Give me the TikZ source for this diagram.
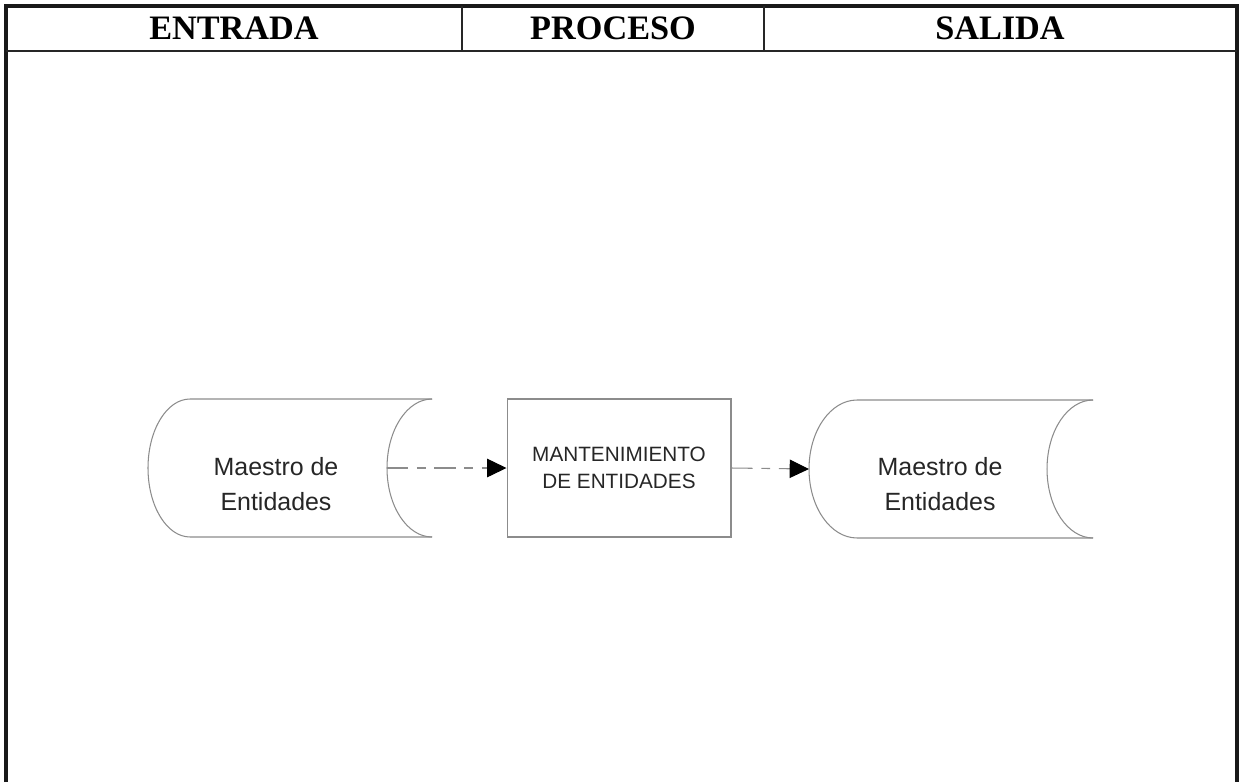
\documentclass[tikz,border=0pt]{standalone}
\usepackage{fontspec}
\setmainfont{Liberation Serif}
\setsansfont{Liberation Sans}
\usetikzlibrary{arrows.meta,positioning}
\tikzset{
  frame/.style={line width=2.6pt, black!90},
  head/.style={font=\bfseries\fontsize{19.5}{21}\selectfont, inner sep=0pt},
  outline/.style={line width=0.6pt, black!45},
  storetxt/.style={font=\sffamily\fontsize{14.2}{20.4}\selectfont, align=center, text=black!85, inner sep=0pt},
  procbox/.style={draw, line width=0.6pt, black!45, text=black!85, align=center,
    minimum width=4.48cm, minimum height=2.76cm, inner sep=0pt,
    font=\sffamily\fontsize{11.8}{15.3}\selectfont},
  flow/.style={line width=0.6pt, black!45, dash pattern=on 12pt off 5pt on 5pt off 5pt,
    -{Triangle[length=11pt, width=10.5pt, black]}}
}
\begin{document}
\begin{tikzpicture}[x=0.02cm, y=-0.02cm]
\useasboundingbox (0,0) rectangle (1243,782);
\draw[frame] (6,782) -- (6,6) -- (1237,6) -- (1237,782);
\draw[line width=1.1pt, black!85] (6,51) -- (1237,51);
\draw[line width=0.85pt, black!85] (462,6) -- (462,51);
\draw[line width=0.85pt, black!85] (764,6) -- (764,51);
\node[head] (entrada) at (234,28) {ENTRADA};
\node[head] (proceso) at (613,28) {PROCESO};
\node[head] (salida) at (1000,28) {SALIDA};
\draw[outline] (432,399) -- (190,399) arc[start angle=90, end angle=270, x radius=0.84cm, y radius=1.38cm] -- (432,537);
\draw[outline] (432,399) arc[start angle=90, end angle=270, x radius=0.9cm, y radius=1.38cm];
\node[storetxt] (maestroIn) at (276,484) {Maestro de\\Entidades};
\coordinate (inEnd) at (387,468);
\node[procbox] (mant) at (619,468) {MANTENIMIENTO\\DE ENTIDADES};
\draw[outline] (1093,400) -- (857,400) arc[start angle=90, end angle=270, x radius=0.96cm, y radius=1.38cm] -- (1093,538);
\draw[outline] (1093,400) arc[start angle=90, end angle=270, x radius=0.92cm, y radius=1.38cm];
\node[storetxt] (maestroOut) at (940,484) {Maestro de\\Entidades};
\coordinate (outStart) at (809,469);
\draw[flow] (inEnd) -- (mant.west);
\draw[flow] (mant.east) -- (outStart);
\end{tikzpicture}
\end{document}
